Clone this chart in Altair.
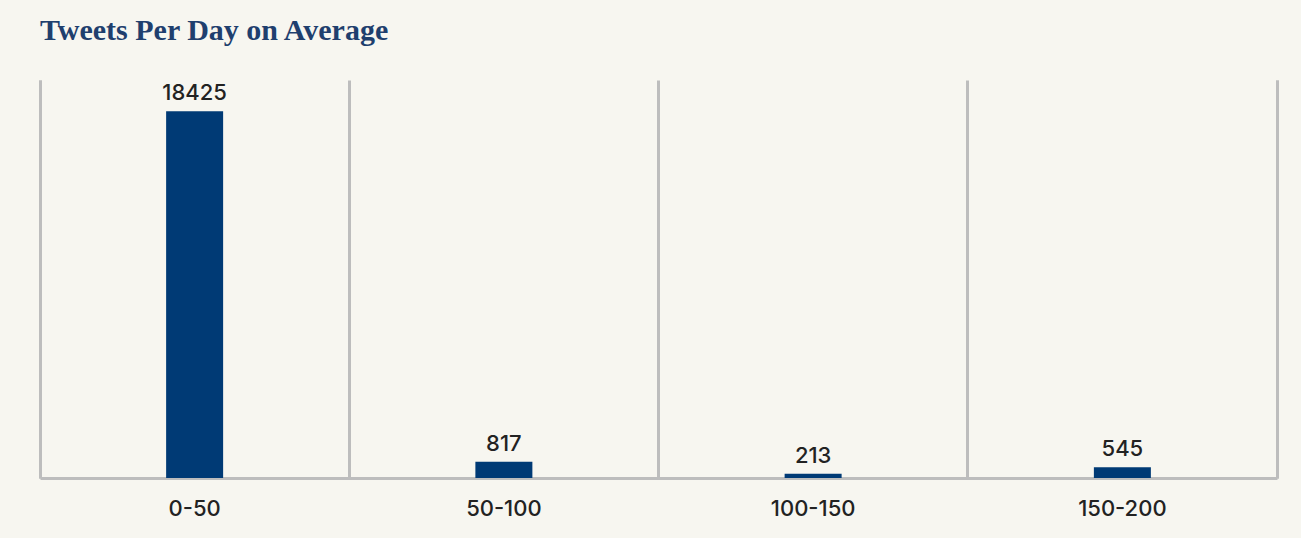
import altair as alt
import pandas as pd

categories = ["0-50", "50-100", "100-150", "150-200"]
tweets = [18425, 817, 213, 545]

df = pd.DataFrame({"range": categories, "count": tweets})

grey = "#bdbdbd"
navy = "#003a75"

x = alt.X("range:N", sort=categories, title=None,
          scale=alt.Scale(paddingInner=0, paddingOuter=0),
          axis=alt.Axis(labelAngle=0, ticks=False, domain=True, domainColor=grey,
                        domainWidth=3, labelFont="Inter", labelFontSize=22,
                        labelFontWeight=500,
                        labelColor="#222222", labelPadding=20,
                        grid=True, gridColor=grey, gridWidth=3, bandPosition=0))
y = alt.Y("count:Q", title=None, scale=alt.Scale(domain=[0, 20000], nice=False),
          axis=alt.Axis(labels=False, ticks=False, grid=False, domain=True,
                        domainColor=grey, domainWidth=3))

bars = alt.Chart(df).mark_bar(size=57, color=navy).encode(x=x, y=y)
text = alt.Chart(df).mark_text(baseline="bottom", dy=-6, font="Inter", fontSize=22,
                               fontWeight=500,
                               color="#222222").encode(x=x, y=y, text="count:Q")
right = alt.Chart(df).mark_rule(opacity=0).encode(
    y=alt.Y("count:Q", scale=alt.Scale(domain=[0, 20000], nice=False),
            axis=alt.Axis(orient="right", labels=False, ticks=False, grid=False,
                          domain=True, domainColor=grey, domainWidth=3, title=None)))

chart = alt.layer(bars, text, right).resolve_scale(y="shared").resolve_axis(y="independent").properties(
    width=1237, height=398,
    title=alt.TitleParams("Tweets Per Day on Average", anchor="start", frame="group",
                          font="Liberation Serif", fontSize=30, fontWeight="bold",
                          color="#1f3f6e", offset=10, baseline="alphabetic"),
    background="#f7f6f0",
    padding={"left": 40, "top": 80, "right": 24, "bottom": 60},
    autosize=alt.AutoSizeParams(type="none"),
).configure_view(stroke=None)

chart.save("out.html", embed_options={"renderer": "svg", "actions": False})
